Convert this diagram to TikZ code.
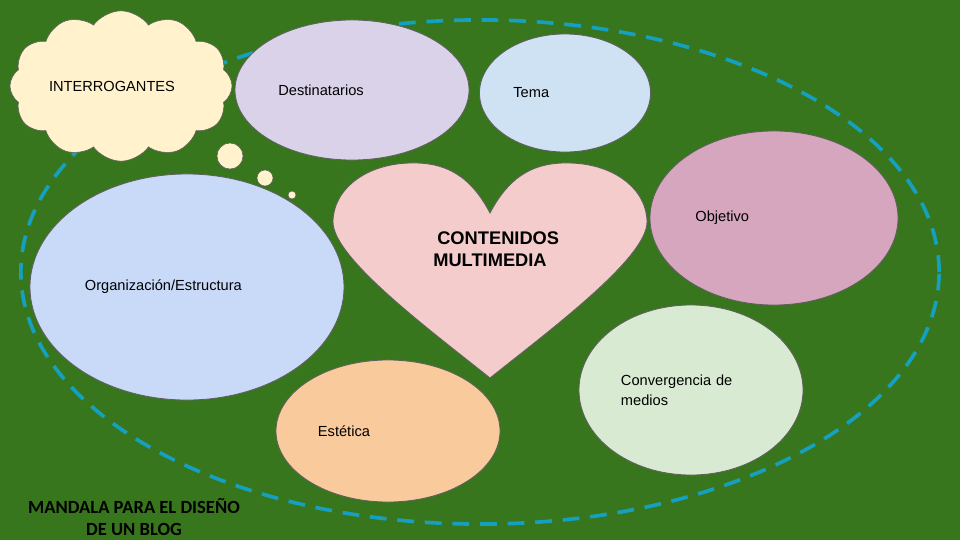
\documentclass[tikz,border=0pt]{standalone}
\usepackage{fontspec}
\setmainfont{Liberation Sans}
\newfontfamily\calibri{Carlito}
\usetikzlibrary{shapes.geometric,shapes.symbols}
\definecolor{meadow}{RGB}{56,118,29}
\definecolor{lagoon}{RGB}{22,160,192}
\definecolor{edge}{RGB}{95,95,95}
\definecolor{lilac}{RGB}{217,210,233}
\definecolor{sky}{RGB}{207,226,243}
\definecolor{mauve}{RGB}{213,166,189}
\definecolor{cornflower}{RGB}{201,218,248}
\definecolor{peach}{RGB}{249,203,156}
\definecolor{mint}{RGB}{217,234,211}
\definecolor{blush}{RGB}{244,204,204}
\definecolor{cream}{RGB}{255,242,204}
\tikzset{
  bubble/.style={ellipse,draw=edge,line width=0.6pt,fill=#1,inner sep=0pt,
    align=left,font=\fontsize{10.4}{14.5}\selectfont},
  bubble/.default=sky,
  ring/.style={draw=lagoon,line width=2.6pt,dash pattern=on 0.42cm off 0.27cm},
  puff/.style={draw=edge,line width=0.4pt,fill=cream},
  heading/.style={font=\bfseries\fontsize{13}{15.6}\selectfont,align=left,inner sep=0pt},
}
\begin{document}
\begin{tikzpicture}[x=0.025cm,y=-0.025cm]
  \fill[meadow] (0,0) rectangle (960,540);
  \draw[ring] (480,272) ellipse [x radius=11.475cm,y radius=6.3cm];
  % ideas round the heart
  \node[bubble=lilac,minimum width=5.85cm,minimum height=3.5cm,text width=3.68cm] (destinatarios) at (352,90) {Destinatarios};
  \node[bubble=sky,minimum width=4.275cm,minimum height=2.95cm,text width=2.58cm] (tema) at (565,93) {Tema};
  \node[bubble=mauve,minimum width=6.2cm,minimum height=4.35cm,text width=3.93cm] (objetivo) at (774,218) {Objetivo};
  \node[bubble=cornflower,minimum width=7.85cm,minimum height=5.65cm,text width=5.1cm] (organizacion) at (187,287) {Organización/Estructura};
  \node[bubble=peach,minimum width=5.6cm,minimum height=3.55cm,text width=3.5cm] (estetica) at (388,431) {Estética};
  \node[bubble=mint,minimum width=5.6cm,minimum height=4.25cm,text width=3.5cm] (convergencia) at (691,390) {Convergencia de medios};
  % heart
  \draw[draw=edge,line width=0.6pt,fill=blush] (490,213) .. controls (470,175) and (445,162) .. (410,163)
    .. controls (365,164) and (333,190) .. (333,222) .. controls (333,258) and (430,330) .. (490,378)
    .. controls (550,330) and (647,258) .. (647,222) .. controls (647,190) and (615,164) .. (570,163)
    .. controls (535,162) and (510,175) .. (490,213) -- cycle;
  \node[heading,anchor=west] (contenidos) at (433,249) {\hspace*{0.1cm}CONTENIDOS\\MULTIMEDIA};
  % thought cloud
  \node[cloud,cloud puffs=12,cloud puff arc=110,aspect=1.6,puff,inner sep=0pt,minimum width=5.55cm,minimum height=3.55cm,
    font=\fontsize{10.4}{12}\selectfont] (interrogantes) at (121,86) {INTERROGANTES\hspace*{0.45cm}};
  \foreach \cx/\cy/\r in {230/156/0.325cm,265/178/0.2cm,292/195/0.1cm}
    \draw[puff] (\cx,\cy) circle (\r);
  \node[font=\calibri\bfseries\fontsize{13.2}{15}\selectfont,align=center,text=black] (titulo) at (134,517) {MANDALA PARA EL DISEÑO\\DE UN BLOG};
\end{tikzpicture}
\end{document}
